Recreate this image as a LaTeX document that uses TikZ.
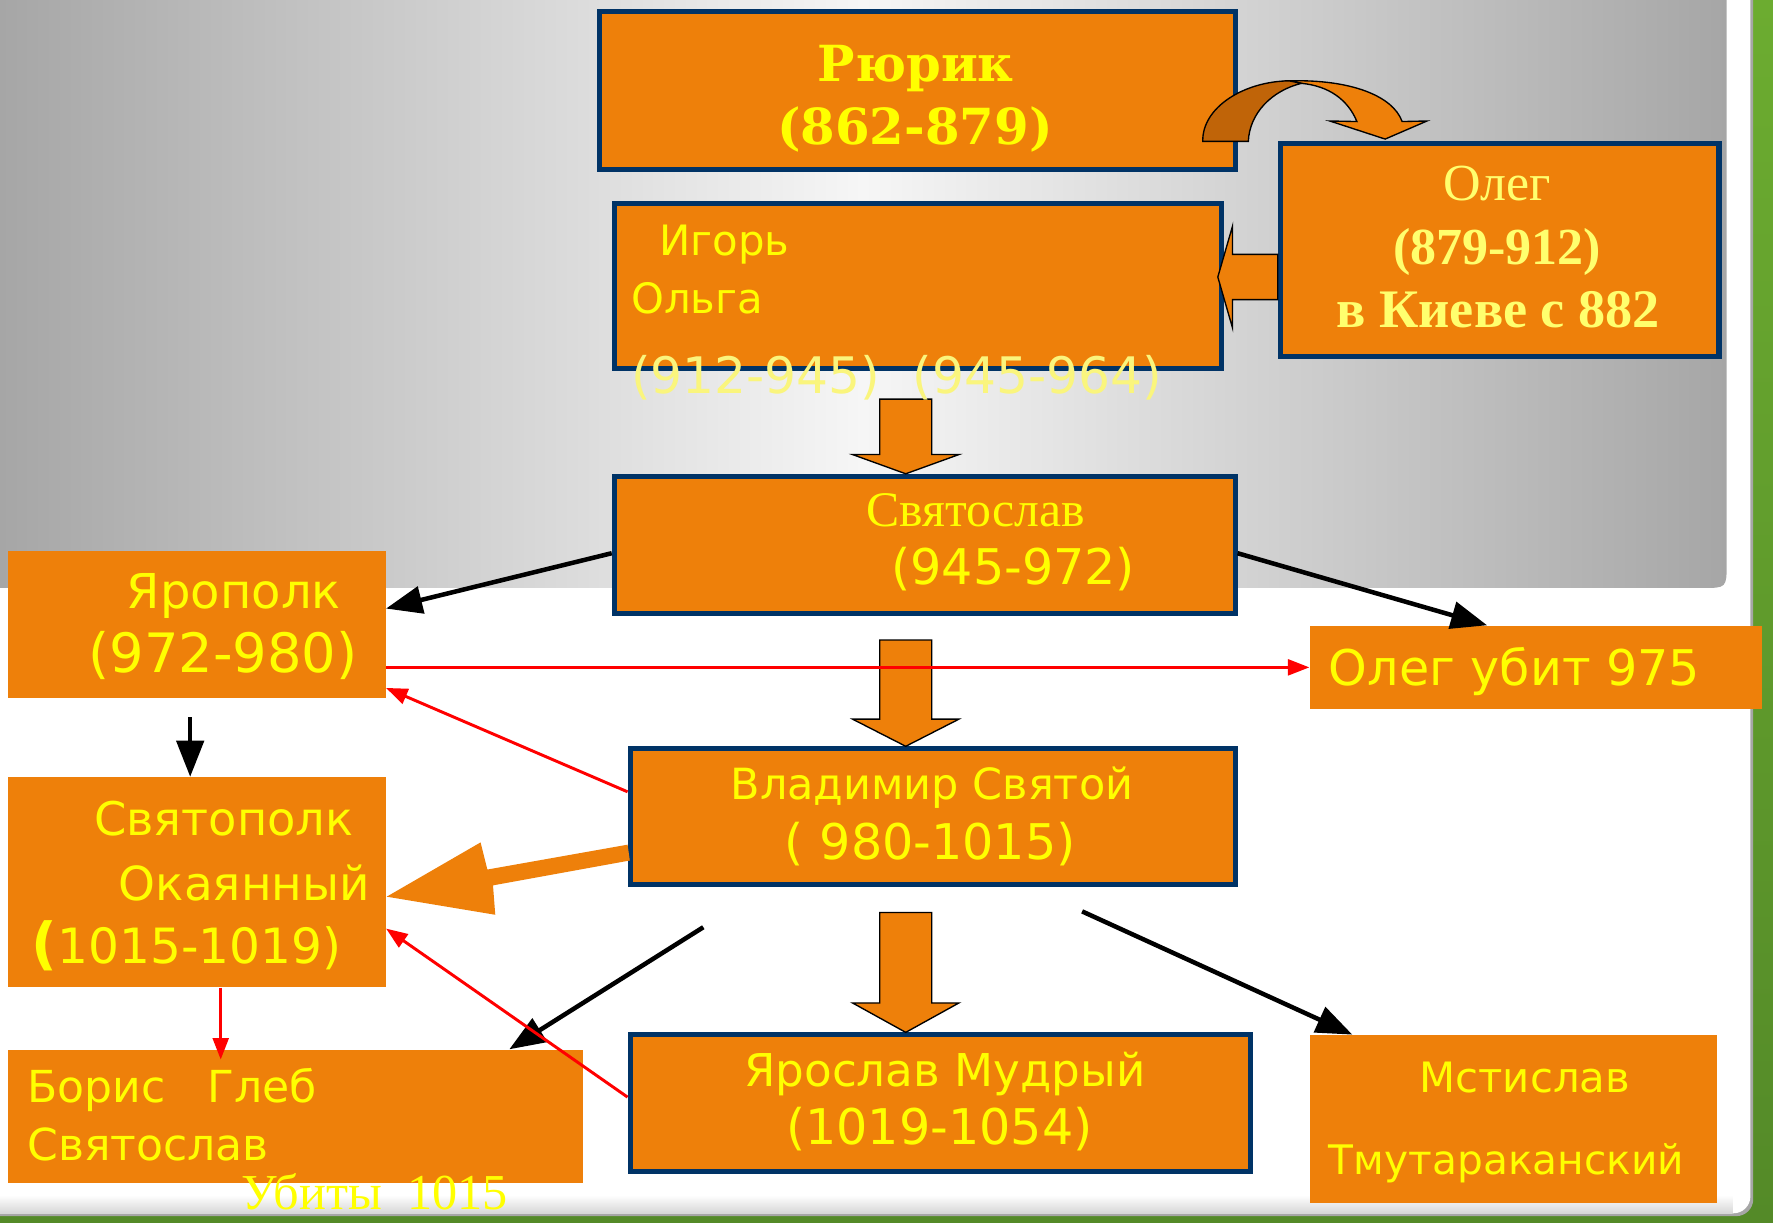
\documentclass[tikz,border=0pt]{standalone}
\usepackage{fontspec}
\setmainfont{Liberation Serif}
\setsansfont{DejaVu Sans}
\newfontfamily\djserif{DejaVu Serif}
\usetikzlibrary{arrows.meta,calc}
\definecolor{orng}{RGB}{238,128,10}
\definecolor{dorng}{RGB}{192,100,8}
\definecolor{navy}{RGB}{0,51,102}
\definecolor{yel}{RGB}{255,255,0}
\definecolor{pyel}{RGB}{255,255,110}
\definecolor{fyel}{RGB}{250,245,125}
\definecolor{grn}{RGB}{108,172,48}
\definecolor{dgrn}{RGB}{84,138,40}
\definecolor{gside}{RGB}{166,166,166}
\definecolor{gmid}{RGB}{246,246,246}
\newcommand\fsz[1]{\fontsize{#1}{#1}\selectfont}
\newcommand\dnarrow[4]{\filldraw[blockar] (#1-23,#2) -- (#1+23,#2) -- (#1+23,#3) -- (#1+47,#3) -- (#1,#4) -- (#1-47,#3) -- (#1-23,#3) -- cycle;}
\begin{document}
\begin{tikzpicture}[x=1pt,y=-1pt,
  box/.style={fill=orng, draw=navy, line width=4.5pt, inner sep=0pt, anchor=north west},
  plainbox/.style={fill=orng, inner sep=0pt, anchor=north west},
  lbl/.style={text=yel, inner sep=0pt, anchor=base west},
  blockar/.style={fill=orng, draw=black, line width=1.2pt, line join=miter},
  blk/.style={draw=black, line width=4pt, -{Triangle[length=32pt,width=24pt]}},
  redar/.style={draw=red, line width=2.6pt, -{Triangle[length=19pt,width=14pt]}}]
\useasboundingbox (0,0) rectangle (1568,1081);
% background
\shade[top color=grn, bottom color=dgrn] (0,0) rectangle (1568,1081);
\fill[black!35, rounded corners=15pt] (-30,-30) rectangle (1550.5,1075.5);
\fill[white, rounded corners=15pt] (-30,-30) rectangle (1548,1073);
\shade[top color=white, bottom color=black!16] (0,1057) rectangle (1532,1073);
\shade[left color=gside, right color=gside, middle color=gmid] (0,0) -- (1527,0) -- (1527,498) .. controls (1527,520) .. (1505,520) -- (0,520) -- cycle;

% boxes
\node[box, minimum width=562pt, minimum height=140pt] (rurik) at (528,8) {};
\node[box, minimum width=537pt, minimum height=146pt] (igor) at (541,178) {};
\node[box, minimum width=388pt, minimum height=188pt] (olegb) at (1130,125) {};
\node[box, minimum width=549pt, minimum height=121pt] (svyat) at (541,419) {};
\node[plainbox, minimum width=334pt, minimum height=130pt] (jaropolk) at (7,487) {};
\node[plainbox, minimum width=400pt, minimum height=74pt] (olegubit) at (1158,553) {};
\node[box, minimum width=535pt, minimum height=120pt] (vlad) at (555,660) {};
\node[plainbox, minimum width=334pt, minimum height=186pt] (svyatopolk) at (7,687) {};
\node[plainbox, minimum width=508pt, minimum height=118pt] (boris) at (7,928) {};
\node[box, minimum width=549pt, minimum height=121pt] (yaroslav) at (555,913) {};
\node[plainbox, minimum width=360pt, minimum height=149pt] (mstislav) at (1158,915) {};

% block arrows
\dnarrow{801}{353}{402}{419}
\dnarrow{801}{566}{636}{660}
\dnarrow{801}{807}{887}{913}
\filldraw[blockar] (1130,225) -- (1090,225) -- (1090,200) -- (1077,245) -- (1090,290) -- (1090,265) -- (1130,265) -- cycle;
\fill[orng] (557,761) -- (436,783) -- (438,809) -- (342,793) -- (425,745) -- (431,769) -- (555,747) -- cycle;
% curved arrow Rurik -> Oleg
\filldraw[fill=orng, draw=black, line width=1.2pt] (1140,71.5) .. controls (1195,70) and (1232,85) .. (1240,107.5) -- (1262,107) -- (1225,123) -- (1176,107) -- (1200,107.5) .. controls (1192,88) and (1175,76) .. (1151,73.7) -- cycle;
\filldraw[fill=dorng, draw=black, line width=1.2pt] (1063.7,125) .. controls (1063,95) and (1100,72) .. (1140,71.5) -- (1151,73.7) .. controls (1125,80) and (1105,100) .. (1104,125) -- cycle;

% connectors
\coordinate (c1) at (622,820);
\coordinate (c2) at (957,806);
\coordinate (bt) at ([xshift=21pt]svyatopolk.south |- boris.north);
\draw[blk] ([yshift=-7.5pt]svyat.west) -- ([yshift=14pt]jaropolk.east);
\draw[blk] ([yshift=-7.5pt]svyat.east) -- ([xshift=-43pt]olegubit.north);
\draw[blk] ([xshift=-6pt,yshift=-17pt]jaropolk.south) -- ([xshift=-6pt]svyatopolk.north);
\draw[blk] (c1) -- ([xshift=-65pt]boris.north east);
\draw[blk] (c2) -- ([xshift=38pt]mstislav.north west);
\draw[redar] (jaropolk.east |- olegubit.west) -- (olegubit.west);
\draw[redar] ([yshift=22pt]vlad.west) -- ([yshift=9pt]jaropolk.south east);
\draw[redar] ([yshift=5.5pt]yaroslav.west) -- ([yshift=-41pt]svyatopolk.east);
\draw[redar] ([xshift=21pt]svyatopolk.south) -- ([yshift=-9pt]bt);

% texts
\node[text=yel, inner sep=0pt, anchor=base, font=\djserif\bfseries\fsz{44}] (t1) at (810,72) {Рюрик};
\node[text=yel, inner sep=0pt, anchor=base, font=\djserif\bfseries\fsz{44}] (t2) at (809,128) {(862-879)};
\node[text=pyel, inner sep=0pt, anchor=base, font=\rmfamily\fsz{46}] (t3) at (1324,177.5) {Олег};
\node[text=pyel, inner sep=0pt, anchor=base, font=\rmfamily\bfseries\fsz{46}] (t4) at (1324,233.5) {(879-912)};
\node[text=pyel, inner sep=0pt, anchor=base, font=\rmfamily\bfseries\fsz{48}] (t5) at (1325,290) {в Киеве с 882};
\node[lbl, font=\sffamily\fsz{37}] (t6) at (583,226) {Игорь};
\node[lbl, font=\sffamily\fsz{37}] (t7) at (558,277) {Ольга};
\node[text=fyel, inner sep=0pt, anchor=base west, font=\sffamily\fsz{44.5}] (t8) at (558,348) {(912-945)\ \ (945-964)};
\node[lbl, font=\rmfamily\fsz{44}] (t9) at (766,466) {Святослав};
\node[lbl, font=\sffamily\fsz{43.5}] (t10) at (788,517) {(945-972)};
\node[lbl, font=\sffamily\fsz{42.5}] (t11) at (112,538) {Ярополк};
\node[lbl, font=\sffamily\fsz{48}] (t12) at (78,595) {(972-980)};
\node[lbl, font=\sffamily\fsz{43.5}] (t13) at (1175,606) {Олег убит 975};
\node[lbl, font=\sffamily\fsz{38}] (t14) at (646,707) {Владимир Святой};
\node[lbl, font=\sffamily\fsz{43.5}] (t15) at (694,760) {( 980-1015)};
\node[lbl, font=\sffamily\fsz{41}] (t16) at (83,739) {Святополк};
\node[lbl, font=\sffamily\fsz{41.5}] (t17) at (105,796) {Окаянный};
\node[lbl, font=\sffamily\fsz{43}] (t18) at (28,852) {{\bfseries\fsz{50}(}1015-1019)};
\node[lbl, font=\sffamily\fsz{39}] (t19) at (24,975) {Борис\ \ \ Глеб};
\node[lbl, font=\sffamily\fsz{39}] (t20) at (24,1026) {Святослав};
\node[lbl, font=\rmfamily\fsz{44.5}] (t21) at (213,1070) {Убиты\ \ 1015};
\node[lbl, font=\sffamily\fsz{40}] (t22) at (658,961) {Ярослав Мудрый};
\node[lbl, font=\sffamily\fsz{43.5}] (t23) at (695,1012) {(1019-1054)};
\node[lbl, font=\sffamily\fsz{37}] (t24) at (1255,966) {Мстислав};
\node[lbl, font=\sffamily\fsz{36}] (t25) at (1175,1039) {Тмутараканский};
\end{tikzpicture}
\end{document}
